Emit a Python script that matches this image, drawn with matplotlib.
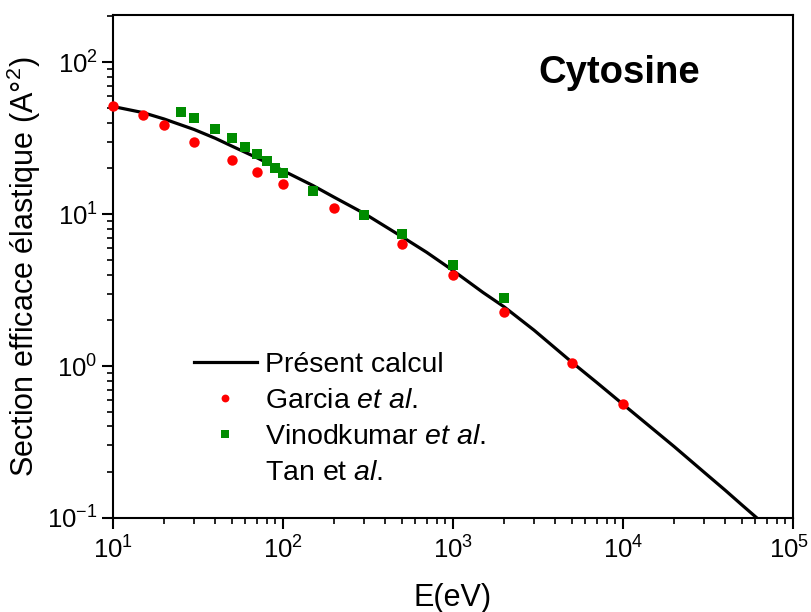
import matplotlib
matplotlib.use('Agg')
import matplotlib.pyplot as plt
from matplotlib.lines import Line2D
from matplotlib.ticker import LogLocator, NullFormatter
from matplotlib.transforms import ScaledTranslation

plt.rcParams['font.family'] = ['Liberation Sans', 'DejaVu Sans']
plt.rcParams['mathtext.fontset'] = 'custom'
plt.rcParams['mathtext.rm'] = 'Liberation Sans'
plt.rcParams['mathtext.it'] = 'Liberation Sans:italic'
plt.rcParams['mathtext.bf'] = 'Liberation Sans:bold'

# present calculation
calc_e = [10, 15, 20, 30, 40, 50, 70, 100, 150, 200, 300, 500, 700, 1000, 1500,
          2000, 3000, 5000, 7000, 10000, 15000, 20000, 30000, 40000, 50000, 70000, 100000]
calc_s = [51, 46.5, 42.2, 36, 31.5, 28, 23.5, 19.3, 15.4, 12.9, 10.1, 7.1, 5.6, 4.25, 3.05,
          2.45, 1.72, 1.06, 0.78, 0.56, 0.385, 0.295, 0.2, 0.152, 0.122, 0.088, 0.062]

# Garcia et al.
garcia_e = [10, 15, 20, 30, 50, 70, 100, 200, 500, 1000, 2000, 5000, 10000]
garcia_s = [51.4, 44.8, 38.5, 29.8, 22.7, 18.9, 15.7, 10.9, 6.35, 3.95, 2.27, 1.05, 0.56]

# Vinodkumar et al.
vinod_e = [25, 30, 40, 50, 60, 70, 80, 90, 100, 150, 300, 500, 1000, 2000]
vinod_s = [46.9, 42.8, 36.3, 31.6, 27.6, 24.8, 22.3, 20.1, 18.6, 14.2, 9.85, 7.39, 4.62, 2.8]

fig = plt.figure(figsize=(8.11, 6.12), dpi=100)
ax = fig.add_axes([0.1393, 0.1536, 0.8385, 0.8219])

ax.plot(calc_e, calc_s, '-', color='black', linewidth=2.3, label='Présent calcul',
        zorder=2, solid_joinstyle='round')
ax.plot(garcia_e, garcia_s, 'o', color='#ff0000', markersize=7.5, markeredgewidth=0,
        label=r'Garcia $\it{et\ al.}$', zorder=3, clip_on=False)
ax.plot(vinod_e, vinod_s, 's', color='#008c00', markersize=6.8, markeredgewidth=0,
        label=r'Vinodkumar $\it{et\ al.}$', zorder=3)

ax.set_xscale('log')
ax.set_yscale('log')
ax.set_xlim(10, 1e5)
ax.set_ylim(0.1, 204)

ax.xaxis.set_major_locator(LogLocator(base=10, numticks=10))
ax.xaxis.set_minor_locator(LogLocator(base=10, subs=range(2, 10), numticks=20))
ax.yaxis.set_major_locator(LogLocator(base=10, numticks=10))
ax.yaxis.set_minor_locator(LogLocator(base=10, subs=range(2, 10), numticks=20))
ax.xaxis.set_minor_formatter(NullFormatter())
ax.yaxis.set_minor_formatter(NullFormatter())

ax.tick_params(which='major', direction='out', length=8, width=1.5, labelsize=18.5,
               top=False, right=False)
ax.tick_params(which='minor', direction='out', length=4.5, width=1.2,
               top=False, right=False)
ax.tick_params(axis='x', which='major', pad=5)
ax.tick_params(axis='y', which='major', pad=3)
for sp in ax.spines.values():
    sp.set_linewidth(1.5)

ax.set_xlabel('E(eV)', fontsize=22, labelpad=14)
ax.set_ylabel('Section efficace élastique (A°$^2$)', fontsize=22)
ax.yaxis.set_label_coords(-0.103, 0.5)

ax.text(0.625, 0.885, 'Cytosine', transform=ax.transAxes, fontsize=27.5,
        fontweight='bold', ha='left', va='center')

handles, labels = ax.get_legend_handles_labels()
handles.append(Line2D([], [], linestyle='none', marker=None))
labels.append(r'Tan et $\it{al.}$')
ax.legend(handles, labels, loc='lower left', bbox_to_anchor=(0.090, 0.024),
          frameon=False, fontsize=20.5, markerscale=0.75, handlelength=2.2,
          handletextpad=0.28, labelspacing=0.35, borderpad=0.2)

# nudge the last x tick label so it stays inside the figure
fig.canvas.draw()
last = ax.xaxis.get_major_ticks()[-1]
for t in ax.xaxis.get_major_ticks():
    if abs(t.get_loc() - 1e5) < 1:
        last = t
last.label1.set_transform(last.label1.get_transform()
                          + ScaledTranslation(-4 / 100, 0, fig.dpi_scale_trans))

fig.savefig('out.png', dpi=100)
